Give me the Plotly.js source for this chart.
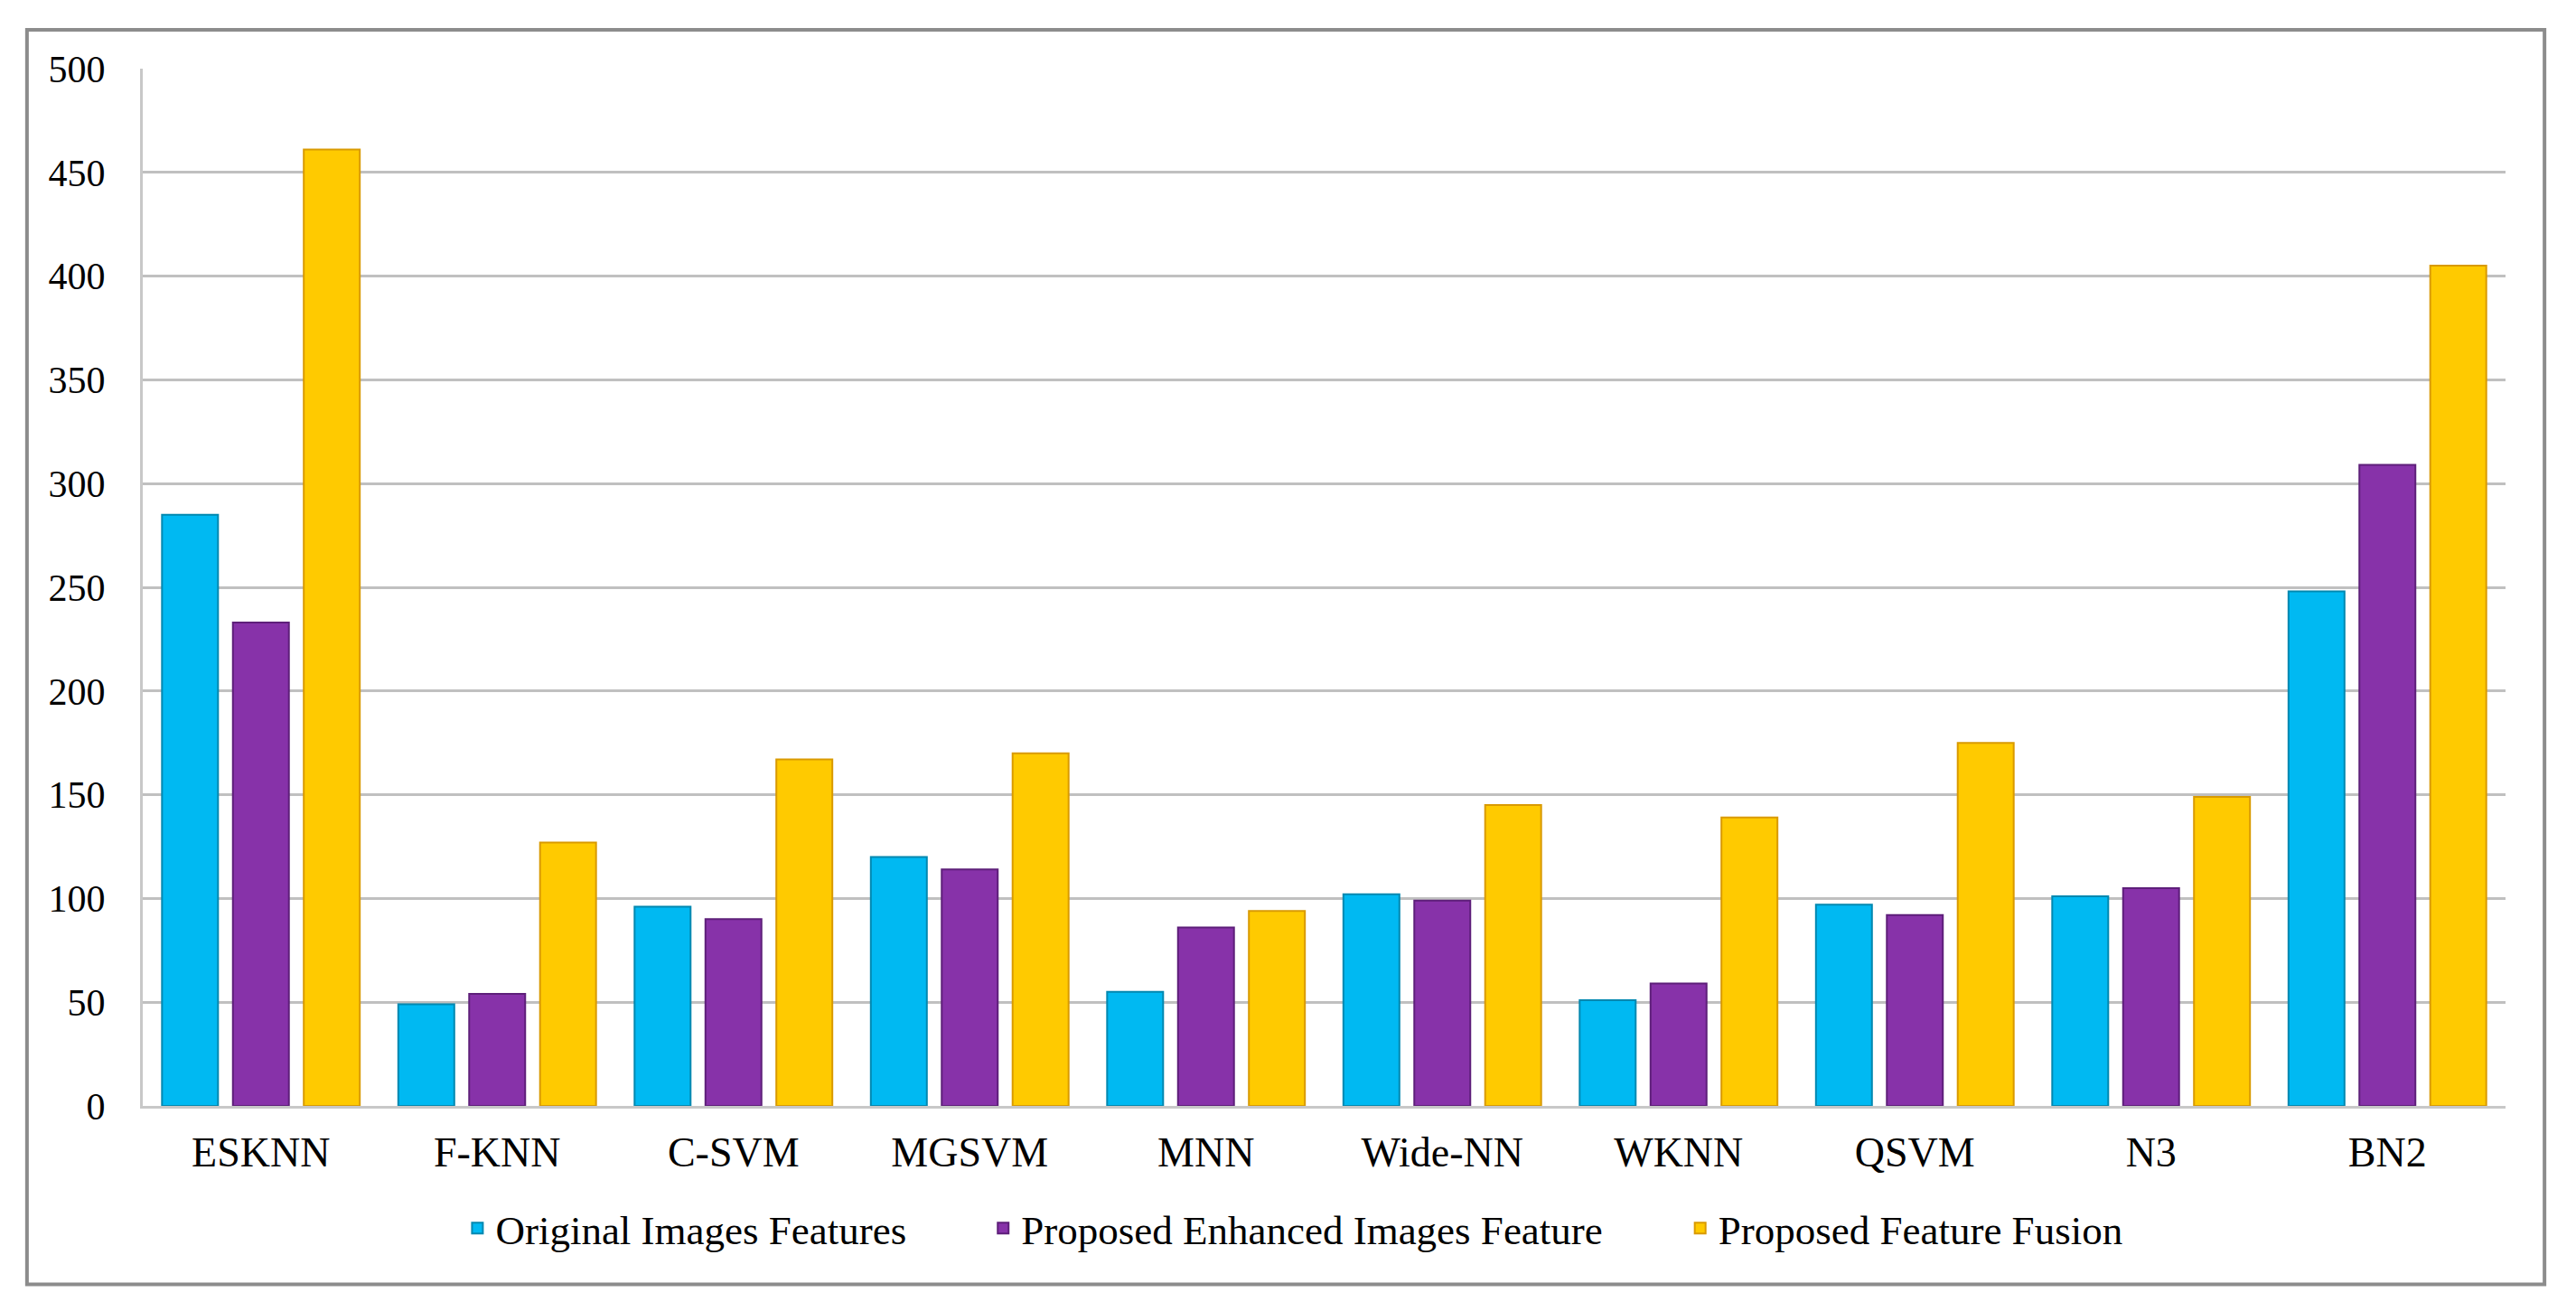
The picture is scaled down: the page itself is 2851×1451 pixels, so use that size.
<!DOCTYPE html>
<html>
<head>
<meta charset="utf-8">
<script src="https://cdn.plot.ly/plotly-3.0.1.min.js"></script>
<style>
html,body{margin:0;padding:0;background:#fff;}
#chart{width:2851px;height:1451px;}
</style>
</head>
<body>
<div id="chart"></div>
<script>
const categories = ["ESKNN","F-KNN","C-SVM","MGSVM","MNN","Wide-NN","WKNN","QSVM","N3","BN2"];
const seriesNames = ["Original Images Features","Proposed Enhanced Images Feature","Proposed Feature Fusion"];
const originalValues = [285, 49, 96, 120, 55, 102, 51, 97, 101, 248];
const enhancedValues = [233, 54, 90, 114, 86, 99, 59, 92, 105, 309];
const fusionValues   = [461, 127, 167, 170, 94, 145, 139, 175, 149, 405];
const yTicks = [0,50,100,150,200,250,300,350,400,450,500];

const fillColors = ["#00B9F2","#8732A9","#FFCA00"];
const edgeColors = ["#0088B0","#5E1F7A","#D99A00"];
const values = [originalValues, enhancedValues, fusionValues];
const legendIds = ['legend','legend2','legend3'];
const legendX = [0.134, 0.3565, 0.6515];

const fam = 'Liberation Serif, Times New Roman, serif';

const traces = values.map((v,i)=>({
  type:'bar',
  name: seriesNames[i],
  x: categories,
  y: v,
  legend: legendIds[i],
  marker:{color: fillColors[i], line:{color: edgeColors[i], width:2}},
  hoverinfo:'x+y'
}));

function mkLegend(i){
  return {
    orientation:'h', x:legendX[i], xanchor:'left', y:-0.118, yanchor:'middle',
    font:{family:fam, size:45, color:'#000'},
    itemwidth:30, bgcolor:'rgba(0,0,0,0)', borderwidth:0
  };
}

const layout = {
  width:2851, height:1451,
  paper_bgcolor:'#fff', plot_bgcolor:'#fff',
  font:{family:fam, size:42, color:'#000'},
  margin:{l:158, r:78, t:76, b:227},
  barmode:'group',
  bargap:0.10,
  bargroupgap:0.21,
  showlegend:true,
  legend: mkLegend(0),
  legend2: mkLegend(1),
  legend3: mkLegend(2),
  xaxis:{
    type:'category', showgrid:false, zeroline:false,
    showline:true, linecolor:'#C8C8C8', linewidth:3,
    ticks:'', tickfont:{family:fam, size:46, color:'#000'},
    ticklabelstandoff:9
  },
  yaxis:{
    range:[0,500], tickvals:yTicks, ticktext:yTicks.map(String),
    showgrid:true, gridcolor:'#C0C0C0', gridwidth:3,
    zeroline:false, showline:true, linecolor:'#C8C8C8', linewidth:3,
    ticks:'', tickfont:{family:fam, size:42, color:'#000'},
    ticklabelstandoff:30
  },
  shapes:[
    {type:'rect', xref:'paper', yref:'paper', x0:-0.049, x1:1.0165, y0:-0.172, y1:1.0375,
     line:{color:'#8C8C8C', width:4}, fillcolor:'rgba(0,0,0,0)', layer:'below'}
  ]
};

Plotly.newPlot('chart', traces, layout, {displayModeBar:false, staticPlot:true});
</script>
</body>
</html>
